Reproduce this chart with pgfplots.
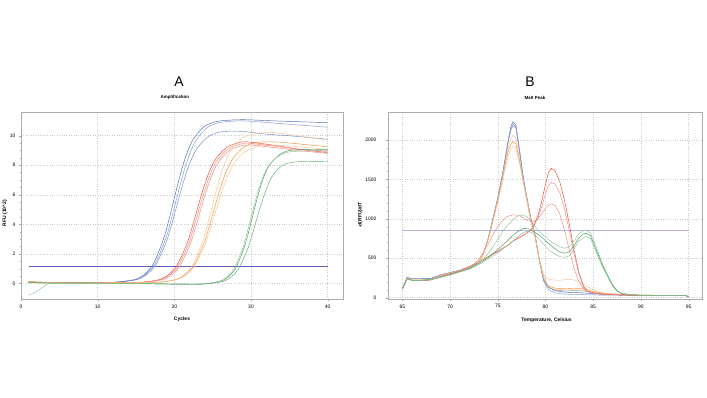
\documentclass[border=0pt]{standalone}
\usepackage{pgfplots}
\pgfplotsset{compat=1.18}
\usepackage{fontspec}
\setmainfont{Liberation Sans}
\definecolor{cblue}{RGB}{75,105,175}
\definecolor{cbluel}{RGB}{130,150,210}
\definecolor{cred}{RGB}{232,70,55}
\definecolor{credl}{RGB}{242,135,125}
\definecolor{corange}{RGB}{245,145,50}
\definecolor{corangel}{RGB}{250,195,145}
\definecolor{cgreen}{RGB}{70,155,90}
\definecolor{cgreenl}{RGB}{140,195,150}
\definecolor{cthrA}{RGB}{95,95,185}
\definecolor{cthrB}{RGB}{180,180,228}
\pgfplotsset{
  myax/.style={
    scale only axis,
    axis line style={gray!65, line width=0.4bp},
    grid=major,
    grid style={dotted, gray!40, line width=0.35bp},
    tick style={gray!70, line width=0.3bp},
    tick align=outside, tick pos=left,
    major tick length=2bp, minor tick length=1.2bp,
    ticklabel style={font=\fontsize{5}{6}\selectfont},
    /pgf/number format/assume math mode=true,
    /pgf/number format/1000 sep={},
    scaled ticks=false,
    title style={font=\bfseries\fontsize{4.5}{5}\selectfont},
    label style={font=\bfseries\fontsize{5}{6}\selectfont},
    every axis plot/.append style={line width=0.45bp, no markers},
  }
}
\begin{document}
\begin{tikzpicture}[x=1bp,y=1bp]
\path[use as bounding box, fill=white] (0,0) rectangle (707,397);
\draw[gray!45, line width=0.4bp] (343,284) -- (343,99);
% ---------------- A ----------------
\begin{axis}[myax, at={(21bp,98bp)}, anchor=south west,
  width=322bp, height=187bp,
  xmin=0, xmax=42, ymin=-1.05, ymax=11.6,
  xtick={0,10,20,30,40}, ytick={0,2,4,6,8,10},
  minor x tick num=4, minor y tick num=3,
  title={Amplification},
  title style={at={(axis description cs:0.478,1)}, anchor=center, yshift=9bp},
  xlabel={Cycles},
  xlabel style={at={(axis description cs:0.5,0)}, anchor=center, yshift=-20bp},
  ylabel={RFU (10\textasciicircum 3)},
  ylabel style={at={(axis description cs:-0.05,0.46)}, anchor=center, rotate=0},
]
\addplot[cthrA, line width=0.9bp] coordinates {(1,1.15)(40,1.15)};
% blue
\addplot[cblue, smooth] coordinates {(1,0.08)(5,0.05)(10,0.06)(12.1,0.08)(14.7,0.25)(16.0,0.57)(17.3,1.36)(18.6,3.02)(19.25,4.23)(19.9,5.57)(20.55,6.92)(21.2,8.13)(21.85,9.09)(22.5,9.78)(23.8,10.58)(25.1,10.9)(26.4,11.02)(29,11.08)(33,11.0)(40,10.88)};
\addplot[cbluel, smooth] coordinates {(1,0.08)(5,0.05)(10,0.06)(12.1,0.08)(14.8,0.25)(16.15,0.57)(17.5,1.36)(18.85,3.0)(19.53,4.2)(20.2,5.55)(20.88,6.89)(21.55,8.09)(22.23,9.05)(22.9,9.74)(24.25,10.53)(25.6,10.85)(26.95,10.95)(29,11.0)(33,10.85)(40,10.57)};
\addplot[cblue!80, smooth] coordinates {(1,0.08)(5,0.05)(10,0.06)(12.2,0.08)(14.9,0.24)(16.25,0.54)(17.6,1.28)(18.95,2.83)(19.63,3.96)(20.3,5.22)(20.98,6.49)(21.65,7.62)(22.33,8.52)(23.0,9.17)(24.35,9.91)(25.7,10.21)(27.05,10.3)(29,10.28)(32,10.1)(36,9.95)(40,9.75)};
% red
\addplot[cred, smooth] coordinates {(1,0.12)(5,0.05)(10,0.05)(15.1,0.07)(17.7,0.22)(19.0,0.5)(20.3,1.19)(21.6,2.63)(22.25,3.68)(22.9,4.85)(23.55,6.02)(24.2,7.07)(24.85,7.9)(25.5,8.51)(26.8,9.2)(28.1,9.48)(29.4,9.58)(33,9.35)(36,9.1)(40,8.85)};
\addplot[credl, smooth] coordinates {(1,0.12)(5,0.05)(10,0.05)(15.3,0.07)(17.9,0.22)(19.2,0.5)(20.5,1.18)(21.8,2.6)(22.45,3.64)(23.1,4.8)(23.75,5.96)(24.4,6.99)(25.05,7.82)(25.7,8.42)(27.0,9.1)(28.3,9.38)(29.6,9.47)(33,9.3)(36,9.1)(40,8.92)};
\addplot[credl, smooth] coordinates {(1,0.12)(5,0.05)(10,0.05)(15.5,0.07)(18.1,0.22)(19.4,0.49)(20.7,1.17)(22.0,2.58)(22.65,3.6)(23.3,4.75)(23.95,5.9)(24.6,6.92)(25.25,7.74)(25.9,8.33)(27.2,9.0)(28.5,9.28)(29.8,9.37)(33,9.2)(36,9.0)(40,8.8)};
% orange
\addplot[corangel, smooth] coordinates {(1,0.1)(5,0.04)(10,0.04)(17.4,0.08)(19.9,0.23)(21.15,0.53)(22.4,1.26)(23.65,2.79)(24.28,3.9)(24.9,5.15)(25.53,6.39)(26.15,7.5)(26.78,8.39)(27.4,9.04)(28.65,9.77)(29.9,10.06)(31.15,10.17)(33,10.2)(36,10.0)(40,9.7)};
\addplot[corange, smooth] coordinates {(1,0.1)(5,0.04)(10,0.04)(17.3,0.07)(19.9,0.22)(21.2,0.5)(22.5,1.19)(23.8,2.63)(24.45,3.68)(25.1,4.85)(25.75,6.02)(26.4,7.07)(27.05,7.9)(27.7,8.51)(29.0,9.2)(30.3,9.48)(31.6,9.58)(34,9.55)(37,9.4)(40,9.25)};
\addplot[corangel, smooth] coordinates {(1,0.1)(5,0.04)(10,0.04)(17.2,0.07)(19.9,0.22)(21.25,0.49)(22.6,1.16)(23.95,2.56)(24.63,3.58)(25.3,4.73)(25.98,5.87)(26.65,6.88)(27.33,7.7)(28.0,8.29)(29.35,8.96)(30.7,9.23)(32.05,9.33)(35,9.3)(40,9.05)};
% green
\addplot[cgreen, smooth] coordinates {(1,0.06)(5,0.02)(10,0.02)(15,0.0)(20,-0.04)(23.6,-0.04)(25.8,0.12)(26.9,0.38)(28.0,1.04)(29.1,2.41)(29.65,3.41)(30.2,4.53)(30.75,5.64)(31.3,6.64)(31.85,7.44)(32.4,8.01)(33.5,8.63)(34.6,8.94)(35.7,9.04)(38,9.08)(40,9.06)};
\addplot[cgreen!85, smooth] coordinates {(1,0.06)(5,0.02)(10,0.02)(15,0.0)(20,-0.04)(23.7,-0.04)(26.0,0.1)(27.15,0.34)(28.3,0.94)(29.45,2.18)(30.03,3.09)(30.6,4.1)(31.18,5.11)(31.75,6.02)(32.33,6.8)(32.9,7.35)(34.05,7.98)(35.2,8.18)(36.35,8.24)(40,8.27)};
\addplot[cgreenl, smooth] coordinates {(1,-0.8)(2,-0.55)(3,-0.2)(3.6,0)(5,0.01)(10,0.02)(15,0.0)(20,-0.04)(23.4,-0.04)(25.6,0.12)(26.7,0.37)(27.8,1.02)(28.9,2.37)(29.45,3.36)(30.0,4.45)(30.55,5.55)(31.1,6.53)(31.65,7.32)(32.2,7.88)(33.3,8.5)(34.4,8.82)(35.5,8.93)(38,8.98)(40,9.0)};
\end{axis}
% ---------------- B ----------------
\begin{axis}[myax, at={(388bp,98bp)}, anchor=south west,
  width=314bp, height=187bp,
  xmin=63.5, xmax=96.4, ymin=-17, ymax=2354,
  xtick={65,70,75,80,85,90,95}, ytick={0,500,1000,1500,2000},
  minor x tick num=4, minor y tick num=4,
  yticklabel style={xshift=-6bp},
  title={Melt Peak},
  title style={at={(axis description cs:0.468,1)}, anchor=center, yshift=8bp},
  xlabel={Temperature, Celsius},
  xlabel style={at={(axis description cs:0.505,0)}, anchor=center, yshift=-21bp},
  ylabel={-d(RFU)/dT},
  ylabel style={at={(axis description cs:-0.088,0.45)}, anchor=center},
]
\addplot[cthrB, line width=0.6bp] coordinates {(65,858)(95,858)};
% blue
\addplot[cblue] coordinates {(65,115)(65.5,255)(66,240)(67,240)(68,245)(69,285)(70,315)(71,345)(72,390)(72.5,420)(73,450)(73.5,560)(74,750)(74.5,1000)(75,1260)(75.4,1500)(75.8,1780)(76.1,2000)(76.4,2180)(76.6,2230)(76.9,2190)(77.3,1850)(77.7,1500)(78,1300)(78.4,1040)(78.9,800)(79.35,480)(79.8,224)(80.3,130)(81,90)(82,70)(83,65)(84,60)(85,50)(86,42)(88,35)(90,30)(94.7,28)(95,10)};
\addplot[cbluel] coordinates {(65,115)(65.5,255)(66,240)(67,240)(68,245)(69,290)(70,320)(71,350)(72,395)(72.5,425)(73,455)(73.5,565)(74,755)(74.5,1005)(75,1265)(75.4,1500)(75.8,1770)(76.1,1990)(76.4,2150)(76.6,2200)(76.9,2170)(77.3,1840)(77.7,1500)(78,1300)(78.4,1040)(78.9,800)(79.35,480)(79.8,230)(80.3,135)(81,95)(82,85)(83,90)(84,85)(85,60)(86,45)(88,35)(90,30)(94.7,28)(95,10)};
\addplot[cbluel] coordinates {(65,115)(65.5,255)(66,240)(67,240)(68,245)(69,285)(70,315)(71,345)(72,390)(72.5,420)(73,450)(73.5,560)(74,750)(74.5,1000)(75,1260)(75.4,1500)(75.8,1770)(76.1,1980)(76.4,2130)(76.6,2180)(76.9,2150)(77.3,1830)(77.7,1490)(78,1290)(78.4,1030)(78.9,790)(79.35,470)(79.8,210)(80.3,100)(81,60)(82,45)(83,40)(84,38)(85,35)(86,32)(88,30)(90,28)(94.7,26)(95,10)};
% orange
\addplot[corangel] coordinates {(65,115)(65.5,250)(66,230)(67,228)(68,235)(69,280)(70,310)(71,345)(72,390)(72.5,420)(73,455)(73.5,560)(74,745)(74.5,990)(75,1240)(75.4,1470)(75.8,1720)(76.1,1900)(76.4,2020)(76.6,2060)(76.9,2020)(77.3,1750)(77.7,1460)(78,1280)(78.4,1020)(78.9,790)(79.35,500)(79.8,290)(80.2,240)(80.7,225)(81.5,220)(82.3,232)(83,225)(83.6,200)(84.2,150)(85,100)(86,60)(88,40)(90,32)(94.7,28)(95,10)};
\addplot[corange] coordinates {(65,112)(65.5,245)(66,222)(67,220)(68,230)(69,275)(70,308)(71,342)(72,388)(72.5,418)(73,452)(73.5,555)(74,740)(74.5,980)(75,1230)(75.4,1450)(75.8,1690)(76.1,1860)(76.4,1950)(76.6,1980)(76.9,1950)(77.3,1720)(77.7,1450)(78,1270)(78.4,1010)(78.9,780)(79.35,480)(79.8,260)(80.3,150)(81,120)(82,115)(83,120)(84,110)(85,80)(86,55)(88,38)(90,32)(94.7,28)(95,10)};
\addplot[corangel] coordinates {(65,112)(65.5,245)(66,222)(67,220)(68,230)(69,275)(70,308)(71,342)(72,388)(72.5,418)(73,450)(73.5,550)(74,730)(74.5,965)(75,1210)(75.4,1420)(75.8,1650)(76.1,1800)(76.4,1890)(76.6,1920)(76.9,1890)(77.3,1690)(77.7,1440)(78,1260)(78.4,1000)(78.9,770)(79.35,470)(79.8,250)(80.3,140)(81,105)(82,100)(83,100)(84,95)(85,70)(86,50)(88,36)(90,30)(94.7,27)(95,10)};
% red
\addplot[credl] coordinates {(65,110)(65.5,245)(66,220)(67,215)(68,225)(69,265)(70,300)(71,340)(72,385)(72.5,425)(73,485)(73.5,575)(74,680)(74.5,800)(75,900)(75.5,980)(76,1030)(76.6,1050)(77.2,1045)(77.7,1010)(78.2,975)(78.7,960)(79.2,1000)(79.7,1080)(80.2,1160)(80.6,1190)(81,1170)(81.5,1060)(82,850)(82.5,600)(83,370)(83.5,200)(84,110)(84.5,75)(85,60)(86,45)(88,35)(90,30)(94.7,26)(95,10)};
\addplot[cred] coordinates {(65,110)(65.5,245)(66,220)(67,215)(68,225)(69,265)(70,300)(71,335)(72,375)(72.5,410)(73,450)(74,520)(75,590)(76,660)(76.6,720)(77.2,760)(77.8,800)(78.4,850)(78.8,920)(79.2,1040)(79.6,1220)(80,1440)(80.3,1580)(80.6,1640)(81,1610)(81.5,1470)(82,1230)(82.5,930)(83,600)(83.5,320)(84,140)(84.5,80)(85,60)(86,45)(88,35)(90,30)(94.7,26)(95,10)};
\addplot[credl] coordinates {(65,110)(65.5,245)(66,220)(67,215)(68,225)(69,265)(70,300)(71,335)(72,375)(72.5,410)(73,448)(74,515)(75,585)(76,655)(76.6,715)(77.2,755)(77.8,795)(78.4,850)(78.8,910)(79.2,1010)(79.6,1150)(80,1320)(80.3,1420)(80.6,1460)(81,1440)(81.5,1330)(82,1120)(82.5,850)(83,550)(83.5,300)(84,130)(84.5,75)(85,58)(86,44)(88,34)(90,30)(94.7,26)(95,10)};
% green
\addplot[cgreenl] coordinates {(65,110)(65.5,240)(66,220)(67,220)(68,230)(69,260)(70,290)(71,330)(72,370)(73,440)(74,560)(75,740)(75.5,840)(76,910)(76.5,980)(77,1030)(77.5,1048)(78,1030)(78.5,970)(79,890)(79.5,820)(80,770)(80.5,720)(81,680)(81.5,645)(82,626)(82.5,645)(83,720)(83.5,810)(84,852)(84.3,858)(84.7,820)(85,740)(85.5,580)(86,420)(86.5,290)(87,170)(87.5,90)(88,55)(89,38)(90,32)(94.7,27)(95,10)};
\addplot[cgreen] coordinates {(65,110)(65.5,240)(66,220)(67,220)(68,230)(69,260)(70,290)(71,328)(72,365)(73,430)(74,510)(75,610)(76,720)(76.5,780)(77,830)(77.7,880)(78.3,870)(79,820)(79.5,780)(80,720)(80.5,670)(81,620)(81.5,580)(82,563)(82.5,580)(83,660)(83.5,760)(84,810)(84.3,816)(84.7,790)(85,700)(85.5,550)(86,400)(86.5,280)(87,160)(87.5,85)(88,52)(89,36)(90,30)(94.7,26)(95,10)};
\addplot[cgreenl] coordinates {(65,110)(65.5,240)(66,220)(67,220)(68,230)(69,258)(70,288)(71,325)(72,360)(73,420)(74,490)(75,570)(76,660)(77,760)(77.6,820)(78,840)(78.5,830)(79,780)(79.5,720)(80,650)(80.5,590)(81,550)(81.5,520)(82,512)(82.5,530)(83,620)(83.5,720)(84,765)(84.3,773)(84.7,750)(85,670)(85.5,520)(86,380)(86.5,270)(87,150)(87.5,80)(88,50)(89,35)(90,30)(94.7,26)(95,10)};
\end{axis}
\node[font=\fontsize{14}{16}\selectfont] at (179,315) {A};
\node[font=\fontsize{14}{16}\selectfont] at (530,315) {B};
\end{tikzpicture}
\end{document}
